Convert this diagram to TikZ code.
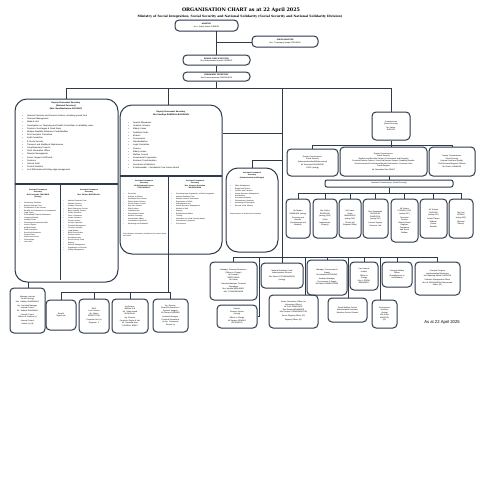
\documentclass[tikz,border=0pt]{standalone}
\usepackage{fontspec}
\setmainfont{Liberation Sans}
\newfontfamily\titlefont{DejaVu Serif}
\definecolor{lc}{HTML}{2E3B4A}
\tikzset{
 box/.style={draw=lc, line width=1pt, rounded corners=4pt, align=center, inner sep=0.6pt, font=\fontsize{1.9}{2.5}\selectfont},
 bigbox/.style={box, rounded corners=12pt},
 conn/.style={draw=lc, line width=0.95pt},
 txt/.style={inner sep=0pt, font=\fontsize{2.1}{3.2}\selectfont, align=left},
 hd/.style={inner sep=0pt, font=\fontsize{2.1}{2.8}\selectfont\bfseries, align=center},
}
\newcommand\ob[7][]{%
 \pgfmathsetmacro\obw{#5-#3}\pgfmathsetmacro\obh{#6-#4}%
 \pgfmathsetmacro\obx{(#3+#5)/2}\pgfmathsetmacro\oby{(#4+#6)/2}\pgfmathsetmacro\obt{#5-#3-2.5}%
 \node[box,#1,minimum width=\obw pt,minimum height=\obh pt,text width=\obt pt] (#2) at (\obx,\oby) {#7};}
\newcommand\bl[1]{\par\noindent\hangindent=5pt\makebox[5pt][l]{\textbullet}#1}
\begin{document}
\begin{tikzpicture}[x=1pt,y=-1pt]
\useasboundingbox[fill=white] (0,0) rectangle (480,480);
% titles
\node[inner sep=0pt,font=\titlefont\bfseries\fontsize{4.8}{5}\selectfont] (title) at (241,10.5) {ORGANISATION CHART as at 22 April 2025};
\node[inner sep=0pt,font=\titlefont\bfseries\fontsize{3.05}{3.2}\selectfont] (sub) at (240,16.2) {Ministry of Social Integration, Social Security and National Solidarity (Social Security and National Solidarity Division)};
% top chain
\ob{min}{175}{20}{238}{31}{\textbf{MINISTER}\\Hon. Ashok Kumar SUBRON}
\ob{jm}{252}{36}{318}{47}{\textbf{JUNIOR MINISTER}\\Hon. Tivyanaguy Haupé POGHOSO}
\ob{sce}{183}{55}{250}{65}{\textbf{SENIOR CHIEF EXECUTIVE}\\Mrs Bhanoomatee Nundoo SEEBOO}
\ob{ps}{183}{72}{250}{81}{\textbf{PERMANENT SECRETARY}\\Mrs Praveenapoonam RAMSAHAYE}
\coordinate (a1) at (216,31);
\coordinate (a2) at (216,42);
\coordinate (a3) at (216,88);
\draw[conn] (a1) -- (sce.north -| a1);
\draw[conn] (a2) -- (jm.west |- a2);
\draw[conn] (sce.south -| a1) -- (ps.north -| a1);
\draw[conn] (ps.south -| a1) -- (a3);
% main bus
\coordinate (b1) at (66,88);
\coordinate (b2) at (168,88);
\coordinate (b3) at (282,88);
\coordinate (b4) at (391,88);
\draw[conn] (b1) -- (b4);
% left big box
\ob[bigbox]{dpsl}{15}{99}{118}{282}{}
\draw[conn] (b1) -- (b1 |- dpsl.north);
\coordinate (l1) at (15,184);
\coordinate (l2) at (118,184);
\coordinate (l3) at (60,184);
\coordinate (l4) at (60,280);
\draw[conn, line width=1.3pt] (l1) -- (l2);
\draw[conn] (l3) -- (l4);
\node[hd, anchor=north] (dpslh) at (66,102) {Deputy Permanent Secretary\\(National Pensions)\\(Mrs. Nandkeshwaree DOOKHY)};
\node[txt, anchor=north west, text width=90pt] (dpslt) at (22,113) {%
\bl{National Pensions and Pensions Reform, including special fund}
\bl{Financial Management}
\bl{Medical Unit}
\bl{Investigation on Tampering and Health Committees on disability cases}
\bl{Pensions Surcharges \& Road Rules}
\bl{Multiple Disability Allowance Funds/Welfare}
\bl{Anti-Corruption Committee}
\bl{Audit Committee}
\bl{E-Social Security}
\bl{Transport and Building \& Maintenance}
\bl{Complementary Projects}
\bl{Chief Information Officer}
\bl{Disaster Management}
\bl{Career Support Unit/Funds}
\bl{Pensions}
\bl{Internal Audit}
\bl{Central Statistics}
\bl{Cost Effectiveness/Cutting edge management}};
\node[hd, anchor=north, font=\fontsize{1.8}{2.4}\selectfont\bfseries] (apsl1h) at (38,189) {Assistant Permanent\\Secretary\\Mr Sooroojdev TAKOORIE\\(Acting)};
\node[txt, anchor=north west, text width=38pt, font=\fontsize{1.7}{2.45}\selectfont] (apsl1t) at (19,201) {%
\bl{Contributory Pensions}
\bl{National Savings Fund}
\bl{Contributions to the Scheme}
\bl{Benefits and enforcement of contributions}
\bl{Legal Cases}
\bl{Consolidated Financial Statements}
\bl{Incapacity Benefits}
\bl{Invalidity Cases}
\bl{Unemployment Hardship Relief}
\bl{Income Support}
\bl{Medical Boards}
\bl{Public Assistance}
\bl{Social Aid Allowances}
\bl{Funeral Grant}
\bl{Claims and Arrears}
\bl{Overpayment}
\bl{Lost cases}};
\node[hd, anchor=north, font=\fontsize{1.8}{2.4}\selectfont\bfseries] (apsl2h) at (89,189) {Assistant Permanent\\Secretary\\Mrs. Shireen BHOOBLALL};
\node[txt, anchor=north west, text width=52pt, font=\fontsize{1.7}{2.45}\selectfont] (apsl2t) at (63,199) {%
\bl{National Pensions Fund}
\bl{Widows Pensions}
\bl{Orphans Pensions}
\bl{Basic Retirement Pension}
\bl{Basic Invalidity Pension}
\bl{Child's Allowance}
\bl{Carer's Allowance}
\bl{Inmate Allowance}
\bl{Pension Arrears}
\bl{Pension Payments}
\bl{Financial Management}
\bl{Treasury Accounts}
\bl{Legal Matters}
\bl{Bank Reconciliation}
\bl{Cheque Section}
\bl{Reimbursements}
\bl{Social Security Fund}
\bl{Registry}
\bl{Records Management}
\bl{Digitalisation of Records}
\bl{Quality Management}};
% middle big box
\ob[bigbox]{dpsm}{120}{105}{222}{254}{}
\draw[conn] (b2) -- (b2 |- dpsm.north);
\coordinate (m1) at (120,176);
\coordinate (m2) at (222,176);
\coordinate (m3) at (168,176);
\coordinate (m4) at (168,254);
\draw[conn, line width=1.3pt] (m1) -- (m2);
\draw[conn] (m3) -- (m4);
\node[hd, anchor=north] (dpsmh) at (171,111) {Deputy Permanent Secretary\\Mrs Sandhya RAMPHUL-BOODHUN};
\node[txt, anchor=north west, text width=88pt] (dpsmt) at (128,120) {%
\bl{Special Allowances}
\bl{Incentive Scheme}
\bl{Elderly Cases}
\bl{Solidarity Funds}
\bl{Brokers}
\bl{Procurement}
\bl{Standardisation}
\bl{Legal Committee}
\bl{Finance}
\bl{Elderly Issues}
\bl{Welfare Council}
\bl{Government Programme}
\bl{Business Transformation}
\bl{Secretariat of Ministers}
\bl{E-Ambassador -- Residential Care Homes Board}};
\node[hd, anchor=north, font=\fontsize{1.8}{2.4}\selectfont\bfseries] (apsm1h) at (144,180) {Assistant Permanent\\Secretary\\Mr Mohammad Yaseen\\GOOLAMALLY};
\node[txt, anchor=north west, text width=44pt, font=\fontsize{1.7}{2.45}\selectfont] (apsm1t) at (123,192) {%
\bl{Social Aid}
\bl{Scheme on Elderly}
\bl{Residential Care Homes}
\bl{Elderly Watch Scheme}
\bl{Senior Citizens Council}
\bl{Day Care Centres}
\bl{Elderly Abuse}
\bl{Ombudsperson}
\bl{Recreational Centres}
\bl{Medical Screening}
\bl{Humanitarian Affairs}
\bl{Coordination with NGOs}
\bl{Monitoring and Evaluation}};
\node[txt, anchor=north west, text width=44pt, font=\fontsize{1.6}{2.3}\selectfont] (apsm1n) at (123,233) {Social Register of Mauritius, Residential Care Homes Board and Others};
\node[hd, anchor=north, font=\fontsize{1.8}{2.4}\selectfont\bfseries] (apsm2h) at (195,180) {Assistant Permanent\\Secretary\\Mrs. Vanessa Govinden\\BAGHOORAM};
\node[txt, anchor=north west, text width=50pt, font=\fontsize{1.7}{2.45}\selectfont] (apsm2t) at (171,192) {%
\bl{Complementary Programmes of Social Integration}
\bl{National Solidarity Fund}
\bl{Multiple Sclerosis Association}
\bl{Registration of NGOs}
\bl{Administration Unit}
\bl{Human Resource Management}
\bl{Welfare of Staff}
\bl{Registry}
\bl{Establishment Matters}
\bl{Training}
\bl{Information on Social Security Matters}
\bl{Parliamentary Questions}
\bl{Procurement}};
% right APS box
\ob[bigbox]{apsr}{226}{168}{278}{252}{}
\node[hd, anchor=north, font=\fontsize{1.8}{2.4}\selectfont\bfseries] (apsrh) at (252,172) {Assistant Permanent\\Secretary\\(Administration and Budget)};
\node[txt, anchor=north west, text width=44pt, font=\fontsize{1.7}{2.45}\selectfont] (apsrt) at (230,184) {%
\bl{Office Management}
\bl{Budget and Finance}
\bl{Vehicles and Transport}
\bl{Human Resource Management}
\bl{Staff Welfare}
\bl{Procurement Matters}
\bl{Parliamentary Questions}
\bl{Monitoring of Expenditure}
\bl{Records of the Ministry}};
\node[txt, anchor=north west, text width=44pt, font=\fontsize{1.6}{2.3}\selectfont] (apsrn) at (230,213) {Representation on Boards and Committees};
\coordinate (r1) at (282,133);
\coordinate (r2) at (282,160);
\coordinate (r3) at (282,257);
\draw[conn] (b3) -- (r3);
\draw[conn] (r1) -- (dpsm.east |- r1);
\draw[conn] (r2) -- (apsr.north |- r2) -- (apsr.north);
% commissioner side
\ob{com}{372}{112}{410}{140}{Commissioner\\(Social Security)\\[1pt]Mr Sanjay\\BHOLAH}
\draw[conn] (b4) -- (com.north -| b4);
\coordinate (c1) at (312,145);
\coordinate (c2) at (391,145);
\coordinate (c3) at (452,145);
\draw[conn] (com.south -| c2) -- (c2);
\draw[conn] (c1) -- (c3);
\ob{dc1}{287}{149}{338}{176}{Deputy Commissioner,\\Social Security\\(Administration/Audit/Enforcement)\\[1pt]Mr Tarachand SHARADHE\\CSOC (acting)}
\ob{dc2}{340}{147}{427}{176}{Deputy Commissioner,\\Social Security\\(Welfare and Benefits Division, Enforcement and Records)\\Pensions/Pension Reform, Social Aid/Income Support, Disability Benefits\\Social Insurance/Contributions/Benefit Enforcement, Customer Care\\Social Register\\[1pt]Mr Jaishankar Rao MOHIT}
\ob{dc3}{429}{147}{475}{176}{Deputy Commissioner,\\Social Security\\(Internal Audit and Quality,\\Field Services/Regional Offices)\\[1pt]Mr Dinesh JHAWKAN}
\draw[conn] (c1) -- (dc1.north -| c1);
\draw[conn] (c2) -- (dc2.north -| c2);
\draw[conn] (c3) -- (dc3.north -| c3);
\ob[rounded corners=2pt]{ac}{325}{180}{453}{187}{Assistant Commissioner, (Social Security)}
\coordinate (d0) at (389,176);
\draw[conn] (d0) -- (ac.north -| d0);
\coordinate (d1) at (389,193);
\draw[conn] (ac.south -| d1) -- (d1);
\coordinate (e1) at (298,193);
\coordinate (e7) at (461,193);
\draw[conn] (e1) -- (e7);
\ob{s1}{286}{199}{310}{238}{Mr Mohan\\RAMDHUN (acting)\\[1.5pt]Pensions and\\Benefits\\(Contributions and\\Medical)}
\ob{s2}{313}{199}{337}{238}{Mrs Shalini\\BOODHOO\\(acting) (OIC)\\[1.5pt](Field\\Inspectorate/\\Enquiry)}
\ob{s3}{339}{199}{361}{238}{Mr Pravin\\Singh\\BHANDHOO\\(acting OIC)\\[1.5pt](Social Aid\\Regional Office)}
\ob{s4}{363}{199}{388}{238}{Mrs Geshwaree\\DOOKHUN-\\RAMDOYAL\\(acting OIC)\\[1.5pt]Income Support\\Pensions Unit}
\ob{s5}{391}{199}{418}{242}{Mr Vikram\\PYNDIAH (OIC)\\(acting OIC)\\[1.5pt]Pensions/\\Pension\\Reform/Social\\Register/\\Complaints\\and Social\\Welfare}
\ob{s6}{420}{199}{447}{238}{Mr Toolsee\\RAGHOO\\(acting OIC)\\[1.5pt]Invalid Claims/\\Widows'\\Claims\\Benefits}
\ob{s7}{449}{199}{473}{238}{Mrs Anil\\GOPAUL\\(acting OIC)\\[1.5pt](Remote\\Offices)}
\foreach \s in {s1,s2,s3,s4,s5,s6,s7} {\draw[conn] (\s.north) -- (\s.north |- e1);}
% bottom right row
\coordinate (f1) at (233,257);
\coordinate (f2) at (437,257);
\draw[conn] (f1) -- (f2);
\ob{mfo}{210}{262}{257}{300}{Manager, Financial Operations\\(Officer in Charge)\\Mr Prakash\\DEEPCHAND\\Mr Vishal\\[1.5pt]Assistant Manager, Financial\\Operations\\Mrs Vanisha BEEHARRY\\Mrs T. RAMJEEAWON}
\ob{nsf}{261}{263}{303}{288}{National Solidarity Fund/\\Administrative Services\\[1.5pt]Mrs Sonia LUTCHMANSINGH\\(Acting)}
\ob{mps}{307}{260}{347}{295}{Manager, Procurement \&\\Supply\\Mr Indradeo BOODHOO\\[1.5pt]Assistant Manager,\\Procurement \& Supply\\Mr Rajesh RAMKISSOON}
\ob{la}{350}{262}{378}{290}{Line Internal\\Auditor\\[1.5pt]Officer in\\Charge\\Mrs V. DEEAL\\BEEHARRY}
\ob{wo}{382}{262}{412}{287}{Principal Welfare\\Officer\\(Establishment of\\Unit/Welfare)}
\ob{ppm}{415}{262}{460}{295}{Principal Program\\Implementation/Monitoring\\Mr Gopalsing Mehta CHOOLUN\\[1.5pt]Statistics Management Officer\\Mrs M. BHUNJUN/Mr Dharmendra\\Officer (IC)}
\ob{cash}{217}{305}{257}{328}{Cashier,\\Pension Section\\(Acting)\\[1.5pt]Officer in Charge\\Mr Satyam SEWRAJ\\(RCS/ABCD)}
\ob{sio}{269}{295}{318}{328}{Senior Information Officer (or\\Information Officer)\\Mr Sunil RAMSAHYE\\Mrs Sheeta MOHABEER\\Mrs Pravina CHOWRIMOOTOO\\[1.5pt]Senior Registry Officer (IC)\\[1.5pt]Registry Officer (IC)}
\ob{swc}{328}{298}{367}{322}{Social Welfare Council\\Administrative Secretary\\Mauritius Senior Citizens}
\ob{proc}{372}{300}{397}{328}{Procurement\\Assistant\\(Acting)\\Mrs Anita\\MUNGUR\\(IC)}
\foreach \n in {mfo,nsf,mps,la,wo,ppm} {\draw[conn] (\n.north) -- (\n.north |- f1);}
\coordinate (g1) at (259,257);
\coordinate (g1b) at (259,316);
\draw[conn] (g1) -- (g1b) -- (cash.east |- g1b);
\coordinate (g2) at (305,257);
\draw[conn] (g2) -- (sio.north -| g2);
\coordinate (g3) at (348.5,257);
\draw[conn] (g3) -- (swc.north -| g3);
\coordinate (g4) at (380,257);
\draw[conn] (g4) -- (proc.north -| g4);
\node[inner sep=0pt, font=\fontsize{4.2}{5}\selectfont] (asat) at (442,322) {As at 22 April 2025};
% bottom left row
\coordinate (h0) at (168,292);
\draw[conn] (m4) -- (h0);
\coordinate (h1) at (61,292);
\coordinate (h4) at (170,292);
\draw[conn] (h1) -- (h4);
\ob{mic}{10}{288}{45}{333}{Manager, Internal\\Control (Acting)\\Mrs. Sabitree RAMDHANY\\[1.5pt]Ag. Assistant Manager,\\Internal Control\\Mr. Sudesh BHUGWAN\\[1.5pt]Internal Control\\Officers \& Auditors (x)\\[1.5pt]Internal Control\\Cadres (x) (8)}
\coordinate (k1) at (28,282);
\draw[conn] (k1) -- (mic.north -| k1);
\ob{bb1}{46}{300}{76}{330}{Benefit\\Digital unit}
\ob{bb2}{79}{299}{109}{333}{NSIF\\Loan Section\\Mr. Nitesh\\SEERUTTUN\\[1.5pt]Computer Unit (x)\\Engineer: 1}
\ob{bb3}{112}{299}{148}{333}{Ag Director,\\Welfare Unit\\Mr. Vikas Anand\\MOHUNLAL\\[1.5pt]Ag. Director,\\Pensions, Rights \& Info\\Mr. Ravindra Ram\\DOSIEAH, BSMS}
\ob{bb4}{153}{299}{188}{332}{Ag. Director,\\Financial Operations /\\Systems Integrity\\Mr Rooken NEEMAN\\[1.5pt]Assistant Manager,\\Financial Operations\\(x) Ag. Community\\Service (x)}
\foreach \n in {bb1,bb2,bb3,bb4} {\draw[conn] (\n.north) -- (\n.north |- h1);}
\end{tikzpicture}
\end{document}
